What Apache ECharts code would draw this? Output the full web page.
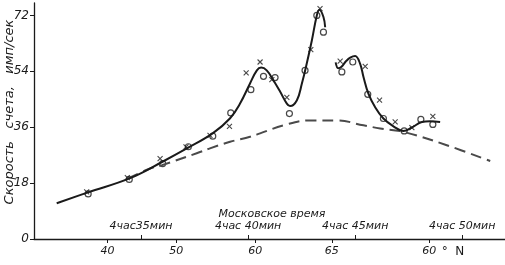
<!DOCTYPE html>
<html>
<head>
<meta charset="utf-8">
<script src="https://cdn.jsdelivr.net/npm/echarts@6/dist/echarts.min.js"></script>
<style>
html, body { margin: 0; padding: 0; background: #fff; }
#chart { width: 505px; height: 265px; }
</style>
</head>
<body>
<div id="chart"></div>
<script>
// шкала времени: минуты после 4 час
const timeTicks = [35, 40, 45, 50];
const timeLabels = ['4час35мин', '4час 40мин', '4час 45мин', '4час 50мин'];
// широта (°N) в точках шкалы времени
const latTicks = [33.43, 36.64, 40.33, 43.91, 48.46];
const latLabels = ['40', '50', '60', '65', '60'];
const yTicks = [0, 18, 36, 54, 72];

// сглаженная кривая — первый участок
const curveA = [
  [31.06, 11.5], [32.52, 15.0], [34.49, 19.6], [35.98, 24.8], [37.2, 29.4],
  [38.36, 34.1], [39.16, 38.9], [39.63, 43.7], [40.09, 50.1], [40.41, 54.3],
  [40.61, 55.2], [40.87, 54.3], [41.18, 51.1], [41.5, 47.4], [41.81, 43.6],
  [41.96, 42.8], [42.28, 44.7], [42.51, 50.0], [42.74, 56.5], [42.98, 64.0],
  [43.21, 72.0], [43.33, 73.8], [43.52, 71.5], [43.6, 68.2]
];
// второй участок
const curveB = [
  [44.09, 56.9], [44.21, 55.0], [44.35, 55.4], [44.58, 57.3], [44.77, 58.4],
  [45.0, 58.9], [45.23, 56.5], [45.39, 52.2], [45.62, 46.8], [45.93, 42.5],
  [46.32, 38.8], [46.79, 36.3], [47.26, 34.8], [47.65, 35.9], [48.12, 37.7],
  [48.5, 37.9], [48.97, 37.7]
];
// фон (штриховая)
const background = [
  [34.39, 19.5], [35.42, 22.7], [35.98, 23.8], [37.6, 27.6], [38.22, 29.2],
  [39.16, 31.3], [40.09, 32.9], [40.56, 34.0], [41.65, 36.6], [42.9, 38.2],
  [44.14, 38.2], [45.39, 36.6], [46.17, 35.6], [47.26, 34.5], [49.28, 30.2],
  [51.31, 25.1]
];
const circles = [
  [32.53, 14.5], [34.45, 19.2], [36.01, 24.3], [37.21, 29.7], [38.35, 33.1],
  [39.19, 40.6], [40.13, 48.1], [40.72, 52.4], [41.26, 52.0], [41.93, 40.4],
  [42.66, 54.3], [43.21, 72.0], [43.52, 66.6], [44.38, 53.8], [44.89, 57.0],
  [45.59, 46.6], [46.32, 38.8], [47.29, 34.8], [48.07, 38.5], [48.63, 36.9]
];
const crosses = [
  [32.46, 15.2], [34.36, 19.8], [35.89, 25.9], [37.1, 29.7], [38.22, 33.4],
  [39.13, 36.3], [39.91, 53.5], [40.56, 57.0], [41.11, 51.3], [41.81, 45.6],
  [42.93, 61.0], [43.36, 74.2], [44.3, 57.3], [45.47, 55.6], [46.14, 44.7],
  [46.87, 37.7], [47.65, 35.9], [48.63, 39.5]
];

const FONT = 'DejaVu Sans';
const INK = '#1a1a1a';

const chart = echarts.init(document.getElementById('chart'));

const pick = (ticks, labels) => v => {
  const i = ticks.findIndex(t => Math.abs(t - v) < 0.01);
  return i < 0 ? '' : labels[i];
};

const option = {
  animation: false,
  backgroundColor: '#fff',
  grid: { left: 34, right: 0, top: 3, bottom: 26 },
  xAxis: [
    {
      // время (над осью)
      type: 'value', position: 'bottom', min: 30, max: 52,
      axisLine: { lineStyle: { color: INK, width: 1.3 } },
      axisTick: { inside: true, length: 4, customValues: timeTicks, lineStyle: { color: INK } },
      axisLabel: {
        inside: true, margin: 7, customValues: timeTicks,
        formatter: pick(timeTicks, timeLabels),
        fontFamily: FONT, fontStyle: 'italic', fontSize: 11, color: INK
      },
      splitLine: { show: false }
    },
    {
      // широта (под осью)
      type: 'value', position: 'bottom', offset: 0, min: 30, max: 52,
      axisLine: { show: false },
      axisTick: { length: 4, customValues: latTicks, lineStyle: { color: INK } },
      axisLabel: {
        margin: 7, customValues: latTicks,
        formatter: pick(latTicks, latLabels),
        fontFamily: FONT, fontStyle: 'italic', fontSize: 11, color: INK
      },
      splitLine: { show: false }
    }
  ],
  yAxis: {
    type: 'value', min: 0, max: 76,
    axisLine: { show: true, lineStyle: { color: INK, width: 1.3 } },
    axisTick: { show: true, length: 4, customValues: yTicks, lineStyle: { color: INK } },
    axisLabel: {
      margin: 5, customValues: yTicks,
      fontFamily: FONT, fontStyle: 'italic', fontSize: 12, color: INK
    },
    splitLine: { show: false }
  },
  graphic: [
    {
      type: 'text', x: 10, y: 112, rotation: Math.PI / 2,
      style: {
        text: 'Скорость   счета,   имп/сек', fill: INK,
        font: 'italic 13px "DejaVu Sans"', align: 'center', verticalAlign: 'middle'
      }
    },
    {
      type: 'text', x: 272, y: 214,
      style: {
        text: 'Московское время', fill: INK,
        font: 'italic 11px "DejaVu Sans"', align: 'center', verticalAlign: 'middle'
      }
    },
    {
      type: 'text', x: 453, y: 252,
      style: {
        text: '°  N', fill: INK,
        font: '12px "DejaVu Sans"', align: 'center', verticalAlign: 'middle'
      }
    }
  ],
  series: [
    {
      type: 'line', data: background, smooth: 0.4, showSymbol: false,
      lineStyle: { color: '#4a4a4a', width: 2, type: [11, 6] }
    },
    {
      type: 'line', data: curveA, smooth: 0.4, showSymbol: false,
      lineStyle: { color: INK, width: 2 }
    },
    {
      type: 'line', data: curveB, smooth: 0.4, showSymbol: false,
      lineStyle: { color: INK, width: 2 }
    },
    {
      type: 'scatter', data: circles, symbol: 'circle', symbolSize: 6,
      itemStyle: { color: '#fff', borderColor: INK, borderWidth: 1.2 }
    },
    {
      type: 'scatter', data: crosses, symbol: 'path://M0,0L10,10M10,0L0,10', symbolSize: 5,
      itemStyle: { color: 'none', borderColor: INK, borderWidth: 1.1 }
    }
  ]
};

chart.setOption(option);
</script>
</body>
</html>
